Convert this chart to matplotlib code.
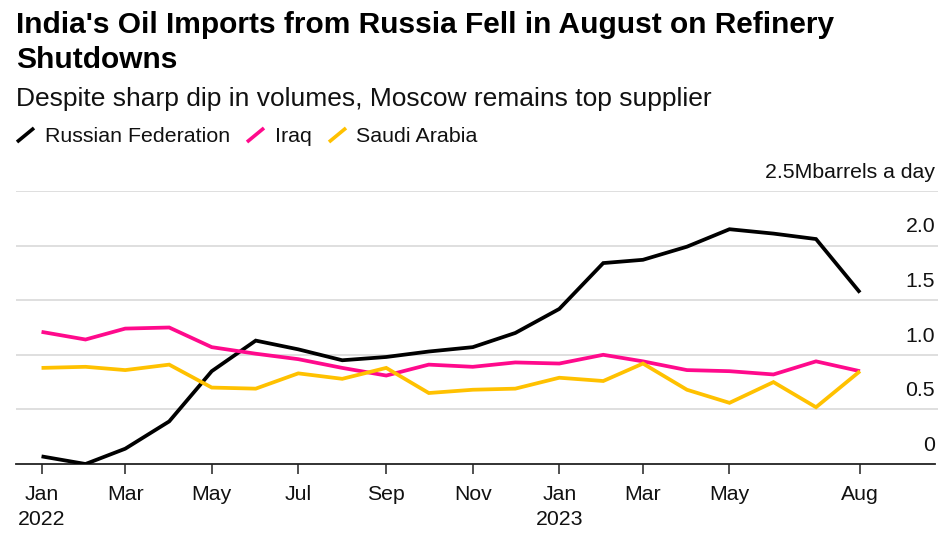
import matplotlib
matplotlib.use("Agg")
import matplotlib.pyplot as plt
import matplotlib.dates as mdates
from matplotlib.lines import Line2D
import datetime as dt

plt.rcParams['font.family'] = ['Liberation Sans', 'DejaVu Sans']

months = ["2022-01", "2022-02", "2022-03", "2022-04", "2022-05", "2022-06",
          "2022-07", "2022-08", "2022-09", "2022-10", "2022-11", "2022-12",
          "2023-01", "2023-02", "2023-03", "2023-04", "2023-05", "2023-06",
          "2023-07", "2023-08"]
russia = [0.07, 0.00, 0.14, 0.39, 0.85, 1.13, 1.05, 0.95, 0.98, 1.03, 1.07, 1.20,
          1.42, 1.84, 1.87, 1.99, 2.15, 2.11, 2.06, 1.57]
iraq = [1.21, 1.14, 1.24, 1.25, 1.07, 1.01, 0.96, 0.88, 0.81, 0.91, 0.89, 0.93,
        0.92, 1.00, 0.94, 0.86, 0.85, 0.82, 0.94, 0.85]
saudi = [0.88, 0.89, 0.86, 0.91, 0.70, 0.69, 0.83, 0.78, 0.88, 0.65, 0.68, 0.69,
         0.79, 0.76, 0.92, 0.68, 0.56, 0.75, 0.52, 0.85]
series_names = ["Russian Federation", "Iraq", "Saudi Arabia"]
y_ticks = [0, 0.5, 1.0, 1.5, 2.0, 2.5]
y_labels = ["0", "0.5", "1.0", "1.5", "2.0", "2.5Mbarrels a day"]
x_tick_months = ["2022-01", "2022-03", "2022-05", "2022-07", "2022-09", "2022-11",
                 "2023-01", "2023-03", "2023-05", "2023-08"]
x_tick_labels = ["Jan\n2022", "Mar", "May", "Jul", "Sep", "Nov", "Jan\n2023", "Mar", "May", "Aug"]

colors = ["#000000", "#ff0a8c", "#ffc100"]

W, H = 953, 540
fig = plt.figure(figsize=(W / 100, H / 100), dpi=100)

def fx(px):
    return px / W

def fy(py):
    return 1 - py / H

ax = fig.add_axes([fx(16), fy(464), fx(938) - fx(16), fy(191) - fy(464)])

def to_date(s):
    y, m = s.split("-")
    return dt.datetime(int(y), int(m), 1)

dates = [to_date(m) for m in months]
for vals, c in zip([russia, iraq, saudi], colors):
    ax.plot(dates, vals, color=c, lw=2.7, solid_joinstyle='miter', solid_capstyle='butt', zorder=3)

ax.set_xlim(dt.datetime(2021, 12, 14), dt.datetime(2023, 9, 25))
ax.set_ylim(0, 2.5)

for sp in ["top", "right", "left"]:
    ax.spines[sp].set_visible(False)
ax.spines["bottom"].set_color("#222222")
ax.spines["bottom"].set_linewidth(1.3)
ax.spines["bottom"].set_bounds(mdates.date2num(dt.datetime(2021, 12, 14)),
                               mdates.date2num(dt.datetime(2023, 9, 23)))

ax.set_yticks([])
for v in y_ticks[1:]:
    ax.axhline(v, color="#dcdcdc", lw=1.3, zorder=1)
for v, lab in zip(y_ticks, y_labels):
    ax.annotate(lab, xy=(1, v), xycoords=("axes fraction", "data"),
                xytext=(-2, 9.5), textcoords="offset points",
                ha="right", va="baseline", fontsize=15.3, color="#111111")

ax.set_xticks([to_date(m) for m in x_tick_months])
ax.set_xticklabels(x_tick_labels, fontsize=15.3, color="#111111", linespacing=1.4)
ax.tick_params(axis="x", length=7, width=1.1, color="#222222", pad=8)

# Title and subtitle
fig.text(fx(16), fy(33), "India's Oil Imports from Russia Fell in August on Refinery",
         fontsize=21.5, fontweight="bold", ha="left", va="baseline")
fig.text(fx(16), fy(68), "Shutdowns",
         fontsize=21.5, fontweight="bold", ha="left", va="baseline")
fig.text(fx(16), fy(106), "Despite sharp dip in volumes, Moscow remains top supplier",
         fontsize=19, ha="left", va="baseline", color="#111111")

# Legend
leg_x = [(17, 45), (247, 275), (329, 356)]
for (lx, tx), name, c in zip(leg_x, series_names, colors):
    fig.add_artist(Line2D([fx(lx), fx(lx + 17)], [fy(142), fy(128)], color=c, lw=2.6,
                          transform=fig.transFigure, solid_capstyle='butt'))
    fig.text(fx(tx), fy(142), name, fontsize=15.4, ha="left", va="baseline", color="#111111")

fig.savefig("out.png", dpi=100, facecolor="white")
